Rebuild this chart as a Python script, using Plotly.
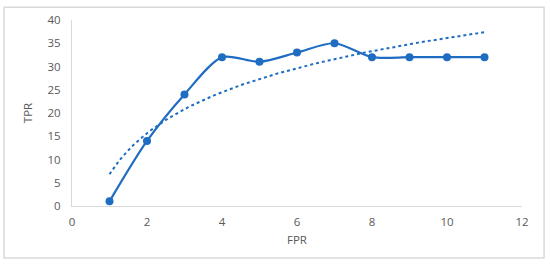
import numpy as np
import plotly.graph_objects as go

fpr = [1, 2, 3, 4, 5, 6, 7, 8, 9, 10, 11]
tpr = [1, 14, 24, 32, 31, 33, 35, 32, 32, 32, 32]

# logarithmic trendline, as Excel fits it
a, b = np.polyfit(np.log(fpr), tpr, 1)
tx = np.linspace(min(fpr), max(fpr), 120)
ty = a * np.log(tx) + b

blue = '#1F6DC2'
grey = '#595959'

fig = go.Figure()
fig.add_trace(go.Scatter(x=tx, y=ty, mode='lines',
                         line=dict(color=blue, width=2, dash='dot'),
                         showlegend=False, hoverinfo='skip'))
fig.add_trace(go.Scatter(x=fpr, y=tpr, mode='lines+markers',
                         line=dict(color=blue, width=2.2, shape='spline', smoothing=0.8),
                         marker=dict(color=blue, size=8),
                         showlegend=False))

fig.update_layout(
    width=550, height=264,
    margin=dict(l=72, r=28, t=17, b=58),
    paper_bgcolor='white', plot_bgcolor='white',
    font=dict(family='Open Sans, sans-serif', size=11.5, color=grey),
    xaxis=dict(range=[0, 12], dtick=2, showgrid=False, zeroline=False,
               showline=True, linecolor='#D9D9D9', linewidth=1, ticks='',
               ticklabelstandoff=5,
               title=dict(text='FPR', font=dict(size=11.5, color=grey), standoff=8)),
    yaxis=dict(range=[0, 40], dtick=5, showgrid=False, zeroline=False,
               showline=True, linecolor='#D9D9D9', linewidth=1, ticks='',
               ticklabelstandoff=8,
               title=dict(text='TPR', font=dict(size=11.5, color=grey), standoff=12)),
    shapes=[dict(type='rect', xref='paper', yref='paper',
                 x0=-0.151, x1=1.049, y0=-0.280, y1=1.069,
                 line=dict(color='#D9D9D9', width=1.5), layer='below')]
)

fig.write_html('out.html', config={'displayModeBar': False},
               post_script="document.body.style.margin='0';")
